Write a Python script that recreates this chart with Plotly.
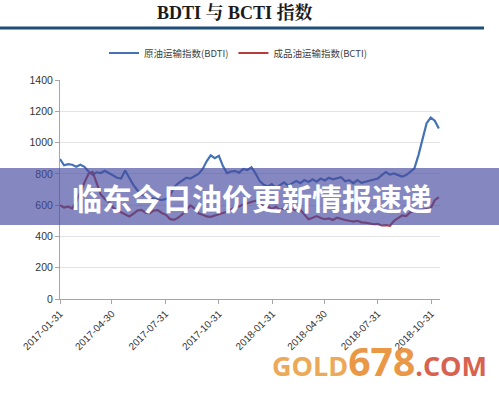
import pandas as pd
import plotly.graph_objects as go

# ---- data (weekly) ----
dates = pd.date_range("2017-01-31", periods=94, freq="7D")
bdti = [895, 855, 862, 858, 845, 858, 845, 815, 795, 810,
        805, 820, 805, 790, 775, 770, 822, 775, 730, 695,
        668, 658, 650, 645, 636, 633, 640, 660, 715, 740,
        760, 775, 770, 785, 800, 830, 880, 918, 900, 915,
        850, 805, 815, 818, 808, 832, 825, 842, 803, 755,
        730, 720, 735, 710, 730, 745, 725, 740, 755, 740,
        760, 748, 765, 750, 770, 758, 775, 765, 771, 778,
        752, 760, 740, 760, 742, 748, 755, 762, 770, 792,
        812, 795, 803, 792, 783, 792, 813, 835, 920, 1030,
        1124, 1160, 1140, 1090]
bcti = [600, 585, 590, 580, 625, 690, 745, 800, 812, 740,
        668, 640, 618, 585, 565, 555, 540, 528, 545, 565,
        570, 552, 548, 565, 568, 550, 538, 512, 506, 520,
        540, 570, 598, 580, 548, 538, 528, 525, 535, 540,
        550, 558, 572, 588, 592, 605, 612, 620, 628, 608,
        590, 595, 575, 590, 570, 580, 562, 575, 565, 570,
        540, 510, 520, 530, 518, 510, 515, 505, 520, 510,
        505, 500, 495, 500, 490, 488, 485, 478, 480, 470,
        472, 468, 500, 520, 535, 530, 555, 560, 565, 572,
        578, 580, 632, 652]
tick_dates = ["2017-01-31", "2017-04-30", "2017-07-31", "2017-10-31",
              "2018-01-31", "2018-04-30", "2018-07-31", "2018-10-31"]
y_ticks = [0, 200, 400, 600, 800, 1000, 1200, 1400]
name_bdti = "原油运输指数(BDTI)"
name_bcti = "成品油运输指数(BCTI)"
title_text = "<b>BDTI 与 BCTI 指数</b>"
banner_text = "<b>临东今日油价更新情报速递</b>"

# ---- figure ----
W, H = 499, 394
L, R, T, B = 60, 59, 80, 95
pw, ph = W - L - R, H - T - B


def px(x):
    return (x - L) / pw


def py(y):
    return (H - B - y) / ph


fig = go.Figure()
fig.add_trace(go.Scatter(x=dates, y=bdti, mode="lines", name=name_bdti,
                         line=dict(color="#4472b4", width=2.2)))
fig.add_trace(go.Scatter(x=dates, y=bcti, mode="lines", name=name_bcti,
                         line=dict(color="#b83c3a", width=2.2)))

fig.update_layout(
    width=W, height=H,
    margin=dict(l=L, r=R, t=T, b=B),
    paper_bgcolor="white", plot_bgcolor="white",
    font=dict(family="Liberation Sans, Noto Sans CJK SC", size=10, color="#333333"),
    showlegend=True,
    legend=dict(orientation="h", x=px(238), y=py(53), xanchor="center", yanchor="middle",
                font=dict(size=9.5, color="#404040", family="Noto Sans CJK SC"),
                itemwidth=30, bgcolor="rgba(0,0,0,0)", tracegroupgap=0),
    xaxis=dict(range=["2017-01-31", "2018-11-15"], tickmode="array",
               tickvals=tick_dates, ticktext=tick_dates, tickangle=-45,
               tickfont=dict(size=10, color="#333333"),
               showgrid=False, showline=True, linecolor="#a6a6a6", linewidth=1,
               ticks="outside", ticklen=4, tickcolor="#a6a6a6", zeroline=False),
    yaxis=dict(range=[0, 1400], tickmode="array", tickvals=y_ticks,
               tickfont=dict(size=10.5, color="#333333"),
               showgrid=True, gridcolor="#e3e3e3", gridwidth=1,
               showline=True, linecolor="#a6a6a6", linewidth=1,
               ticks="outside", ticklen=4, tickcolor="#a6a6a6", zeroline=False),
)

shapes = [
    # header rule
    dict(type="line", xref="paper", yref="paper", x0=px(0), x1=px(484),
         y0=py(28), y1=py(28), line=dict(color="#1f4e79", width=3), layer="above"),
    # banner band
    dict(type="rect", xref="paper", yref="paper", x0=px(0), x1=px(W),
         y0=py(225), y1=py(168), fillcolor="rgba(70,75,160,0.66)",
         line=dict(width=0), layer="above"),
]
fig.update_layout(shapes=shapes)

fig.add_annotation(xref="paper", yref="paper", x=px(235), y=py(13),
                   text=title_text, showarrow=False, xanchor="center", yanchor="middle",
                   font=dict(family="Liberation Serif, Noto Serif CJK SC, Noto Sans CJK SC",
                             size=18, color="#1a1a1a"))
fig.add_annotation(xref="paper", yref="paper", x=px(252), y=py(197),
                   text=banner_text, showarrow=False, xanchor="center", yanchor="middle",
                   font=dict(family="Noto Sans CJK SC", size=30, color="white"))
fig.add_annotation(xref="paper", yref="paper", x=px(270), y=py(360),
                   text=("<b><span style='color:#eba046;font-size:27px'>GOLD</span>"
                         "<span style='color:#e88c32;font-size:39px'>678</span>"
                         "<span style='color:#d4503c;font-size:27px'>.COM</span></b>"),
                   showarrow=False, xanchor="left", yanchor="middle", opacity=0.9,
                   font=dict(family="Open Sans, Liberation Sans", size=27))

fig.write_html("out.html", config={"displayModeBar": False},
               post_script="document.body.style.margin='0';document.body.style.overflow='hidden';")
